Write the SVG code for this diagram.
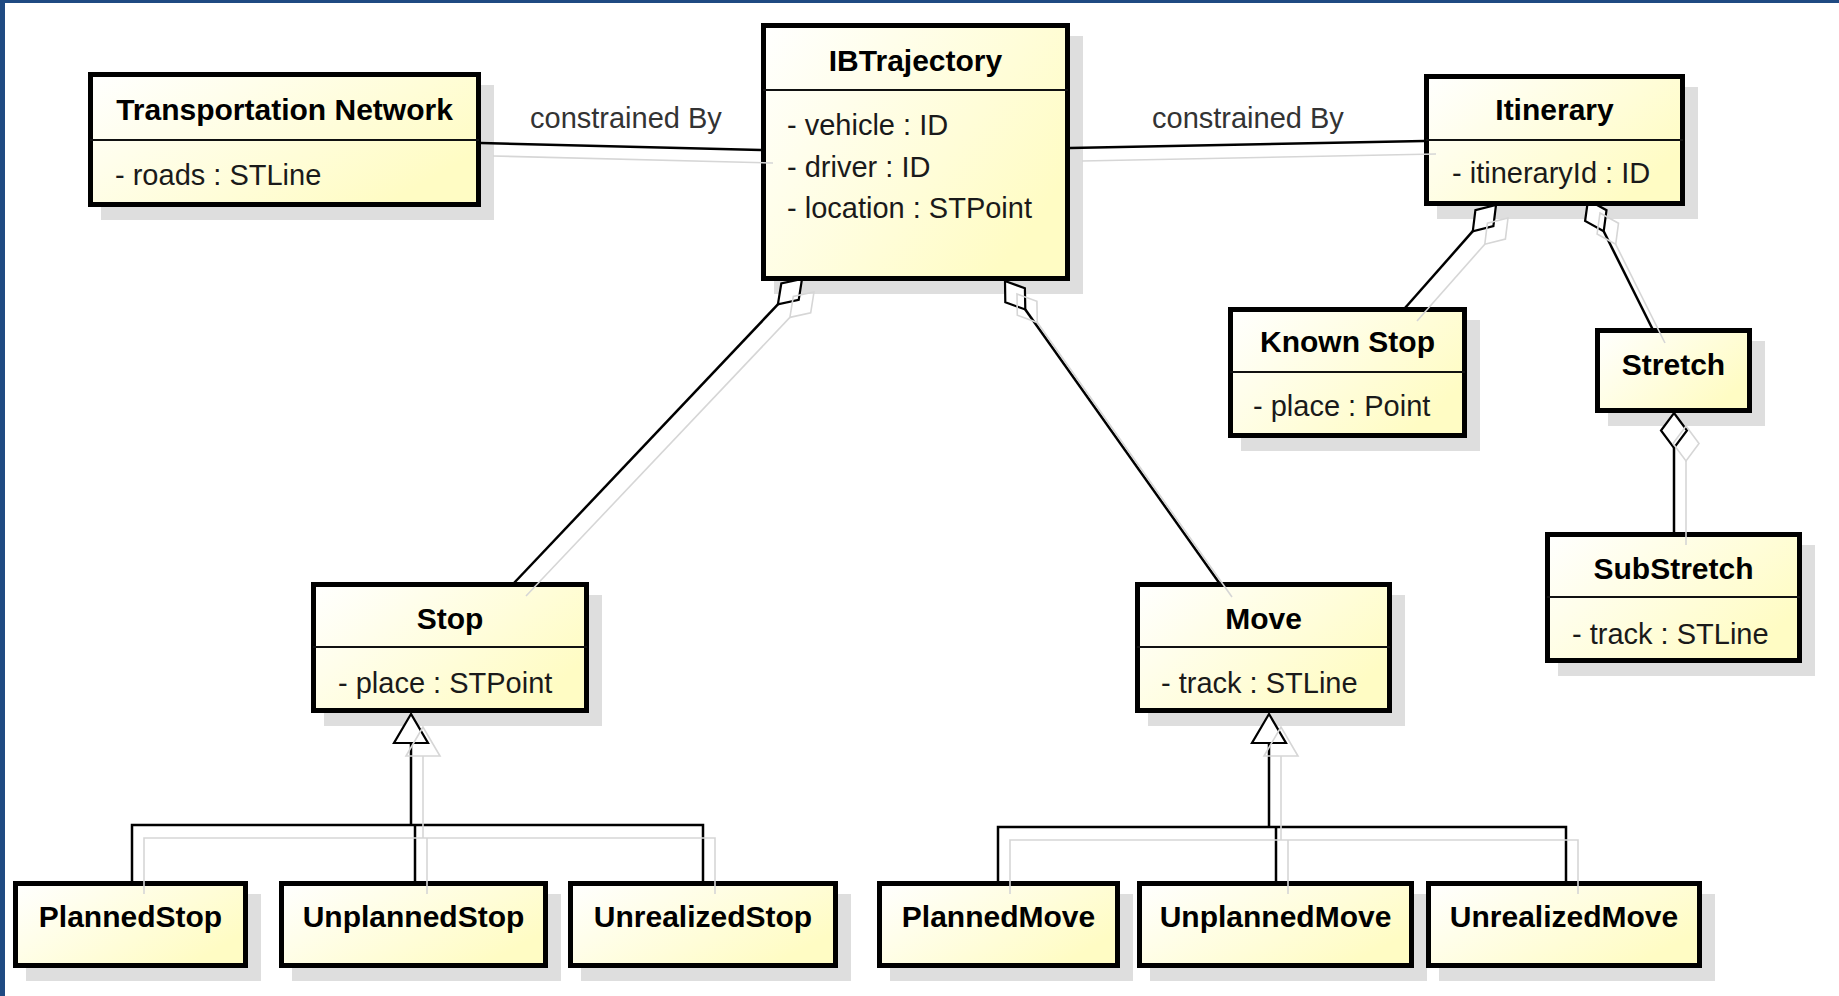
<svg xmlns="http://www.w3.org/2000/svg" width="1839" height="996" viewBox="0 0 1839 996">
<defs>
<linearGradient id="fillG" x1="0" y1="0" x2="1" y2="0.6">
<stop offset="0" stop-color="#ffffff"/>
<stop offset="1" stop-color="#fffcc4"/>
</linearGradient>
<style>
.box{fill:url(#fillG);stroke:#000;stroke-width:5}
.shd{fill:#dedede}
.sep{stroke:#111;stroke-width:2}
.t{font-family:"Liberation Sans",Arial,sans-serif;font-size:30px;font-weight:bold;fill:#000;text-anchor:middle}
.a{font-family:"Liberation Sans",Arial,sans-serif;font-size:29px;fill:#1a1a1a}
.lbl{font-family:"Liberation Sans",Arial,sans-serif;font-size:29px;fill:#333}
.ln{fill:none;stroke:#000;stroke-width:2.5}
.hd{fill:#fff;stroke:#000;stroke-width:2.2;stroke-linejoin:miter}
.sl{fill:none;stroke:#d6d6d6;stroke-width:1.6}
</style>
</defs>
<rect x="0" y="0" width="1839" height="996" fill="#fff"/>
<rect x="0" y="0" width="1839" height="3" fill="#1f4a82"/>
<rect x="0" y="0" width="5" height="996" fill="#1f4a82"/>

<g id="box-shadows">
<rect class="shd" x="101" y="85" width="393" height="135"/>
<rect class="shd" x="774" y="36" width="309" height="258"/>
<rect class="shd" x="1437" y="87" width="261" height="132"/>
<rect class="shd" x="1241" y="320" width="239" height="131"/>
<rect class="shd" x="1608" y="341" width="157" height="85"/>
<rect class="shd" x="1558" y="545" width="257" height="131"/>
<rect class="shd" x="324" y="595" width="278" height="131"/>
<rect class="shd" x="1148" y="595" width="257" height="131"/>
<rect class="shd" x="26" y="894" width="235" height="87"/>
<rect class="shd" x="292" y="894" width="269" height="87"/>
<rect class="shd" x="581" y="894" width="270" height="87"/>
<rect class="shd" x="890" y="894" width="243" height="87"/>
<rect class="shd" x="1150" y="894" width="277" height="87"/>
<rect class="shd" x="1439" y="894" width="276" height="87"/>
</g>

<g id="connectors">
<path class="ln" d="M481,143 L761,150"/>
<path class="ln" d="M1070,148 L1424,141"/>
<path class="ln" d="M777.9,304.4 L514,583"/>
<polygon class="hd" points="802,279 798.7,299.9 777.9,304.4 781.3,283.5"/>
<path class="ln" d="M1025.3,309.5 L1220,584"/>
<polygon class="hd" points="1005,281 1024.9,288.3 1025.3,309.5 1005.3,302.2"/>
<path class="ln" d="M1472.8,231.2 L1405,308"/>
<polygon class="hd" points="1496,205 1493.4,226.1 1472.8,231.2 1475.4,210.2"/>
<path class="ln" d="M1603.7,231.3 L1653,330"/>
<polygon class="hd" points="1588,200 1606.5,210.2 1603.7,231.3 1585.1,221"/>
<path class="ln" d="M1674,448 L1674,532"/>
<polygon class="hd" points="1674,413 1687,430.5 1674,448 1661,430.5"/>
<path class="ln" d="M411,743 V825 M132,881 V825 H703 V881 M415,825 V881"/>
<polygon class="hd" points="411,714 394,743 428,743"/>
<path class="ln" d="M1269,743 V827 M998,881 V827 H1566 V881 M1276,827 V881"/>
<polygon class="hd" points="1269,714 1252,743 1286,743"/>
<text class="lbl" x="530" y="128">constrained By</text>
<text class="lbl" x="1152" y="128">constrained By</text>
</g>

<g id="TransportationNetwork">
<rect class="box" x="90.5" y="74.5" width="388" height="130"/>
<line class="sep" x1="90" y1="140" x2="479" y2="140"/>
<text class="t" x="284.5" y="120">Transportation Network</text>
<text class="a" x="115" y="185">- roads : STLine</text>
</g>

<g id="IBTrajectory">
<rect class="box" x="763.5" y="25.5" width="304" height="253"/>
<line class="sep" x1="763" y1="90" x2="1068" y2="90"/>
<text class="t" x="915.5" y="71">IBTrajectory</text>
<text class="a" x="787" y="135">- vehicle : ID</text>
<text class="a" x="787" y="176.5">- driver : ID</text>
<text class="a" x="787" y="218">- location : STPoint</text>
</g>

<g id="Itinerary">
<rect class="box" x="1426.5" y="76.5" width="256" height="127"/>
<line class="sep" x1="1426" y1="140" x2="1683" y2="140"/>
<text class="t" x="1554.5" y="120">Itinerary</text>
<text class="a" x="1452" y="183">- itineraryId : ID</text>
</g>

<g id="KnownStop">
<rect class="box" x="1230.5" y="309.5" width="234" height="126"/>
<line class="sep" x1="1230" y1="372" x2="1465" y2="372"/>
<text class="t" x="1347.5" y="352">Known Stop</text>
<text class="a" x="1253" y="416">- place : Point</text>
</g>

<g id="Stretch">
<rect class="box" x="1597.5" y="330.5" width="152" height="80"/>
<text class="t" x="1673.5" y="375">Stretch</text>
</g>

<g id="SubStretch">
<rect class="box" x="1547.5" y="534.5" width="252" height="126"/>
<line class="sep" x1="1547" y1="597" x2="1800" y2="597"/>
<text class="t" x="1673.5" y="579">SubStretch</text>
<text class="a" x="1572" y="644">- track : STLine</text>
</g>

<g id="Stop">
<rect class="box" x="313.5" y="584.5" width="273" height="126"/>
<line class="sep" x1="313" y1="647" x2="587" y2="647"/>
<text class="t" x="450" y="629">Stop</text>
<text class="a" x="338" y="693">- place : STPoint</text>
</g>

<g id="Move">
<rect class="box" x="1137.5" y="584.5" width="252" height="126"/>
<line class="sep" x1="1137" y1="647" x2="1390" y2="647"/>
<text class="t" x="1263.5" y="629">Move</text>
<text class="a" x="1161" y="693">- track : STLine</text>
</g>

<g id="PlannedStop">
<rect class="box" x="15.5" y="883.5" width="230" height="82"/>
<text class="t" x="130.5" y="927">PlannedStop</text>
</g>
<g id="UnplannedStop">
<rect class="box" x="281.5" y="883.5" width="264" height="82"/>
<text class="t" x="413.5" y="927">UnplannedStop</text>
</g>
<g id="UnrealizedStop">
<rect class="box" x="570.5" y="883.5" width="265" height="82"/>
<text class="t" x="703" y="927">UnrealizedStop</text>
</g>
<g id="PlannedMove">
<rect class="box" x="879.5" y="883.5" width="238" height="82"/>
<text class="t" x="998.5" y="927">PlannedMove</text>
</g>
<g id="UnplannedMove">
<rect class="box" x="1139.5" y="883.5" width="272" height="82"/>
<text class="t" x="1275.5" y="927">UnplannedMove</text>
</g>
<g id="UnrealizedMove">
<rect class="box" x="1428.5" y="883.5" width="271" height="82"/>
<text class="t" x="1564" y="927">UnrealizedMove</text>
</g>

<g id="connector-shadows" transform="translate(12,13)">
<path class="sl" d="M481,143 L761,150"/>
<path class="sl" d="M1070,148 L1424,141"/>
<path class="sl" d="M777.9,304.4 L514,583"/>
<polygon class="sl" points="802,279 798.7,299.9 777.9,304.4 781.3,283.5"/>
<path class="sl" d="M1025.3,309.5 L1220,584"/>
<polygon class="sl" points="1005,281 1024.9,288.3 1025.3,309.5 1005.3,302.2"/>
<path class="sl" d="M1472.8,231.2 L1405,308"/>
<polygon class="sl" points="1496,205 1493.4,226.1 1472.8,231.2 1475.4,210.2"/>
<path class="sl" d="M1603.7,231.3 L1653,330"/>
<polygon class="sl" points="1588,200 1606.5,210.2 1603.7,231.3 1585.1,221"/>
<path class="sl" d="M1674,448 L1674,532"/>
<polygon class="sl" points="1674,413 1687,430.5 1674,448 1661,430.5"/>
<path class="sl" d="M411,743 V825 M132,881 V825 H703 V881 M415,825 V881"/>
<polygon class="sl" points="411,714 394,743 428,743"/>
<path class="sl" d="M1269,743 V827 M998,881 V827 H1566 V881 M1276,827 V881"/>
<polygon class="sl" points="1269,714 1252,743 1286,743"/>
</g>
</svg>
